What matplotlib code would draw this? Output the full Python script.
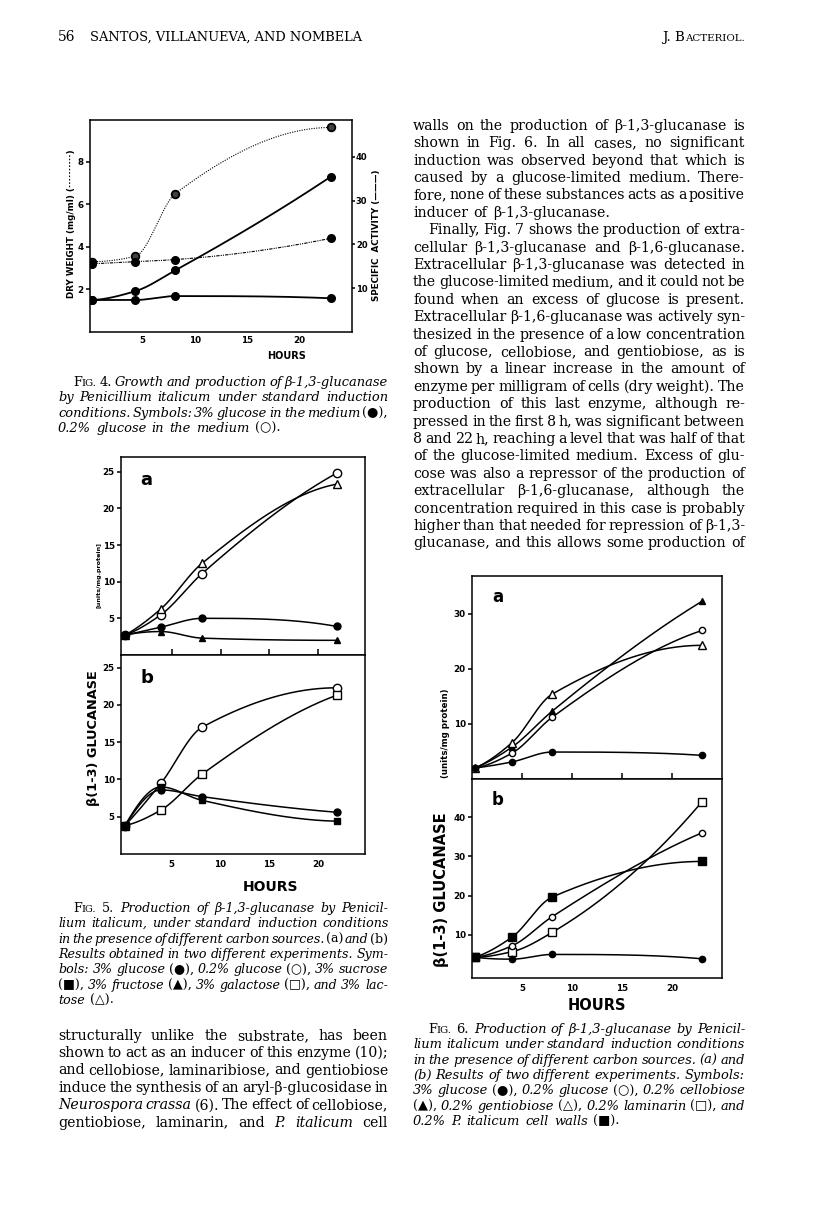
import numpy as np
import matplotlib
matplotlib.use('Agg')
import matplotlib.pyplot as plt

W, H = 816, 1228

# -----------------------------------------------------------------------------
# data

# Fig. 4: growth (dry weight, mg/ml) and specific activity vs hours
hours4 = [0.2, 4.3, 8.15, 23.0]
dry_02 = [3.3, 3.55, 6.5, 9.6]       # 0.2% glucose, dry weight (dotted)
dry_3 = [3.2, 3.3, 3.4, 4.4]         # 3% glucose, dry weight (dotted)
act_02 = [7.3, 9.3, 14.1, 35.5]      # 0.2% glucose, specific activity (solid)
act_3 = [7.3, 7.3, 8.2, 7.7]         # 3% glucose, specific activity (solid)
ticks4_left = [2, 4, 6, 8]
ticks4_right = [10, 20, 30, 40]

# Fig. 5: beta(1-3) glucanase, units/mg protein
hours5 = [0.2, 3.9, 8.1, 21.9]
f5a_glc3 = [2.7, 3.8, 5.0, 3.9]
f5a_glc02 = [2.7, 5.5, 11.1, 24.8]
f5a_fru = [2.7, 3.2, 2.3, 2.0]
f5a_lac = [2.7, 6.3, 12.5, 23.3]
f5b_glc3 = [3.8, 8.6, 7.7, 5.6]
f5b_glc02 = [3.8, 9.5, 17.0, 22.3]
f5b_suc = [3.8, 9.0, 7.2, 4.4]
f5b_gal = [3.8, 5.9, 10.7, 21.3]
ticks5 = [5, 10, 15, 20, 25]

# Fig. 6
hours6 = [0.3, 4.0, 8.0, 23.0]
f6a_glc3 = [2.0, 3.1, 4.9, 4.3]
f6a_glc02 = [2.0, 4.7, 11.2, 27.0]
f6a_cel = [2.0, 5.8, 12.3, 32.3]
f6a_gen = [2.0, 6.6, 15.4, 24.3]
f6b_glc3 = [4.3, 3.8, 5.0, 3.9]
f6b_glc02 = [4.3, 7.2, 14.6, 36.0]
f6b_lam = [4.3, 5.7, 10.6, 43.9]
f6b_walls = [4.3, 9.4, 19.6, 28.7]

hour_ticks = [5, 10, 15, 20]

# -----------------------------------------------------------------------------
# text of the page

header_left = ['56', 'SANTOS, VILLANUEVA, AND NOMBELA']

right_col = [
    'walls on the production of β-1,3-glucanase is',
    'shown in Fig. 6. In all cases, no significant',
    'induction was observed beyond that which is',
    'caused by a glucose-limited medium. There-',
    'fore, none of these substances acts as a positive',
    'inducer of β-1,3-glucanase.',
    'Finally, Fig. 7 shows the production of extra-',
    'cellular β-1,3-glucanase and β-1,6-glucanase.',
    'Extracellular β-1,3-glucanase was detected in',
    'the glucose-limited medium, and it could not be',
    'found when an excess of glucose is present.',
    'Extracellular β-1,6-glucanase was actively syn-',
    'thesized in the presence of a low concentration',
    'of glucose, cellobiose, and gentiobiose, as is',
    'shown by a linear increase in the amount of',
    'enzyme per milligram of cells (dry weight). The',
    'production of this last enzyme, although re-',
    'pressed in the first 8 h, was significant between',
    '8 and 22 h, reaching a level that was half of that',
    'of the glucose-limited medium. Excess of glu-',
    'cose was also a repressor of the production of',
    'extracellular β-1,6-glucanase, although the',
    'concentration required in this case is probably',
    'higher than that needed for repression of β-1,3-',
    'glucanase, and this allows some production of',
]

left_col = [
    'structurally unlike the substrate, has been',
    'shown to act as an inducer of this enzyme (10);',
    'and cellobiose, laminaribiose, and gentiobiose',
    'induce the synthesis of an aryl-β-glucosidase in',
    '_Neurospora crassa_ (6). The effect of cellobiose,',
    'gentiobiose, laminarin, and _P. italicum_ cell',
]

cap4 = [
    '^FIG. _4._ Growth and production of β-1,3-glucanase',
    'by Penicillium italicum under standard induction',
    'conditions. Symbols: 3% glucose in the medium _(●),_',
    '0.2% glucose in the medium _(○)._',
]

cap5 = [
    '^FIG. _5._ Production of β-1,3-glucanase by Penicil-',
    'lium italicum, under standard induction conditions',
    'in the presence of different carbon sources. _(a)_ and _(b)_',
    'Results obtained in two different experiments. Sym-',
    'bols: 3% glucose _(●),_ 0.2% glucose _(○),_ 3% sucrose',
    '_(■),_ 3% fructose _(▲),_ 3% galactose _(□),_ and 3% lac-',
    'tose _(△)._',
]

cap6 = [
    '^FIG. _6._ Production of β-1,3-glucanase by Penicil-',
    'lium italicum under standard induction conditions',
    'in the presence of different carbon sources. (a) and',
    '(b) Results of two different experiments. Symbols:',
    '3% glucose _(●),_ 0.2% glucose _(○),_ 0.2% cellobiose',
    '_(▲),_ 0.2% gentiobiose _(△),_ 0.2% laminarin _(□),_ and',
    '0.2% P. italicum cell walls _(■)._',
]

# -----------------------------------------------------------------------------
# helpers

plt.rcParams['font.family'] = ['DejaVu Serif', 'DejaVu Sans']
plt.rcParams['mathtext.default'] = 'regular'

fig = plt.figure(figsize=(W / 100, H / 100), dpi=100)
fig.patch.set_facecolor('white')
renderer = fig.canvas.get_renderer()

SANS = ['DejaVu Sans']


def rect(x0, y0, x1, y1):
    return [x0 / W, 1 - y1 / H, (x1 - x0) / W, (y1 - y0) / H]


def ftext(x, y, s, **kw):
    return fig.text(x / W, 1 - y / H, s, **kw)


def pchip(x, y, n=60):
    # smooth curve through the measured points (drawn line only)
    x = np.asarray(x, float)
    y = np.asarray(y, float)
    h = np.diff(x)
    d = np.diff(y) / h
    m = np.zeros_like(y)
    for k in range(1, len(x) - 1):
        if d[k - 1] * d[k] > 0:
            w1 = 2 * h[k] + h[k - 1]
            w2 = h[k] + 2 * h[k - 1]
            m[k] = (w1 + w2) / (w1 / d[k - 1] + w2 / d[k])

    def end(h0, h1, d0, d1):
        s = ((2 * h0 + h1) * d0 - h0 * d1) / (h0 + h1)
        if np.sign(s) != np.sign(d0):
            s = 0.0
        elif np.sign(d0) != np.sign(d1) and abs(s) > abs(3 * d0):
            s = 3 * d0
        return s

    m[0] = end(h[0], h[1], d[0], d[1])
    m[-1] = end(h[-1], h[-2], d[-1], d[-2])
    xs, ys = [], []
    t = np.linspace(0, 1, n)
    for k in range(len(x) - 1):
        h00 = 2 * t**3 - 3 * t**2 + 1
        h10 = t**3 - 2 * t**2 + t
        h01 = -2 * t**3 + 3 * t**2
        h11 = t**3 - t**2
        xs.append(x[k] + t * h[k])
        ys.append(h00 * y[k] + h10 * h[k] * m[k] + h01 * y[k + 1] + h11 * h[k] * m[k + 1])
    return np.concatenate(xs), np.concatenate(ys)


def series(ax, x, y, marker, filled, ms=5.5, ls='-', lw=1.1):
    xs, ys = pchip(x, y)
    ax.plot(xs, ys, color='black', ls=ls, lw=lw, zorder=2)
    ax.plot(x, y, ls='none', marker=marker, ms=ms, mec='black', mew=1.0,
            mfc='black' if filled else 'white', zorder=3)


def parse(line, base_style):
    # '_' toggles italic/roman, '^' marks small caps word
    words = []
    state = base_style
    other = 'normal' if base_style == 'italic' else 'italic'
    for tok in line.split(' '):
        style = state
        sc = False
        if tok.startswith('^'):
            tok = tok[1:]
            sc = True
            style = 'normal'
        if tok.startswith('_'):
            tok = tok[1:]
            state = other
            style = other
        if tok.endswith('_'):
            tok = tok[:-1]
            state = base_style
        words.append((tok, style, sc))
    return words


def word_parts(tok, style, sc, size):
    if sc:
        return [(tok[0], style, size), (tok[1:], style, size * 0.78)]
    return [(tok, style, size)]


def measure(s, style, size):
    t = fig.text(0, 0, s, fontsize=size, fontstyle=style)
    w = t.get_window_extent(renderer).width
    t.remove()
    return w


def block(lines, x0, x1, y0, dy, size, base_style='normal', last=(), indent=None):
    indent = indent or {}
    parsed = [parse(l, base_style) for l in lines]
    widths = []
    for words in parsed:
        ww = []
        for tok, style, sc in words:
            ww.append(sum(measure(s, st, sz) for s, st, sz in word_parts(tok, style, sc, size)))
        widths.append(ww)
    space = measure('n', 'normal', size) * 0.5
    # shrink if a justified line does not fit
    ratio = 1.0
    for i, ww in enumerate(widths):
        avail = x1 - x0 - indent.get(i, 0)
        need = sum(ww) + 0.45 * space * (len(ww) - 1)
        ratio = max(ratio, need / avail)
    f = 1.0 / ratio
    size = size * f
    space *= f
    for i, (words, ww) in enumerate(zip(parsed, widths)):
        ww = [w * f for w in ww]
        xs = x0 + indent.get(i, 0)
        avail = x1 - xs
        if i in last or len(ww) < 2:
            gap = space * 1.25
        else:
            gap = (avail - sum(ww)) / (len(ww) - 1)
        y = y0 + i * dy + 3.8
        x = xs
        for (tok, style, sc), w in zip(words, ww):
            xx = x
            for s, st, sz in word_parts(tok, style, sc, size):
                ftext(xx, y, s, fontsize=sz, fontstyle=st, ha='left', va='baseline')
                xx += measure(s, st, sz)
            x += w + gap


def style_axes(ax, lw=1.1):
    for sp in ax.spines.values():
        sp.set_linewidth(lw)
    ax.tick_params(labelsize=6.3, width=lw, length=3, pad=1.5)
    for lab in ax.get_xticklabels() + ax.get_yticklabels():
        lab.set_fontweight('bold')
        lab.set_family(SANS)


# -----------------------------------------------------------------------------
# header

ftext(58, 37 + 4, header_left[0], fontsize=10, ha='left', va='baseline')
ftext(90, 37 + 4, header_left[1], fontsize=9.4, ha='left', va='baseline')
t = ftext(745, 37 + 4, 'ACTERIOL.', fontsize=7.4, ha='right', va='baseline')
wsc = t.get_window_extent(renderer).width
ftext(745 - wsc, 37 + 4, 'J. B', fontsize=9.6, ha='right', va='baseline')

# -----------------------------------------------------------------------------
# Fig. 4

ax4 = fig.add_axes(rect(90, 120, 352, 332))
ax4r = ax4.twinx()
ax4.set_xlim(0, 25)
ax4.set_ylim(0, 9.95)
ax4r.set_ylim(0, 48.4)

xs, ys = pchip(hours4, dry_02)
ax4.plot(xs, ys, color='black', ls=(0, (1, 1.2)), lw=0.8)
xs, ys = pchip(hours4, dry_3)
ax4.plot(xs, ys, color='black', ls=(0, (3, 1, 1, 1, 1, 1)), lw=0.8)
ax4.plot(hours4, dry_02, ls='none', marker='o', ms=5.5, mfc='0.25', mec='black', mew=1.3)
ax4.plot(hours4, dry_3, ls='none', marker='o', ms=5.5, mfc='black', mec='black')
series(ax4r, hours4, act_02, 'o', True, ms=5.5, lw=1.3)
series(ax4r, hours4, act_3, 'o', True, ms=5.5, lw=1.3)

ax4.set_xticks(hour_ticks)
ax4.set_yticks(ticks4_left)
ax4r.set_yticks(ticks4_right)
style_axes(ax4)
style_axes(ax4r)
ax4.tick_params(axis='x', direction='in', length=0, pad=3)
ax4r.tick_params(axis='y', length=2, pad=0.8, labelsize=6)
ax4.spines['right'].set_visible(False)
ax4r.spines['left'].set_visible(False)
ax4r.spines['top'].set_visible(False)
ax4r.spines['bottom'].set_visible(False)

ftext(287, 356, 'HOURS', fontsize=7, fontweight='bold', family=SANS, ha='center', va='center')
ftext(71, 224, 'DRY WEIGHT (mg/ml) (··········)', fontsize=6.3, fontweight='bold',
      family=SANS, rotation=90, ha='center', va='center')
ftext(376, 235, 'SPECIFIC  ACTIVITY (———)', fontsize=6.3, fontweight='bold',
      family=SANS, rotation=90, ha='center', va='center')

block(cap4, 58, 388, 382, 15.4, 9.4, base_style='italic', last={3}, indent={0: 15})

# -----------------------------------------------------------------------------
# Fig. 5

ax5a = fig.add_axes(rect(121, 457, 365, 655))
ax5b = fig.add_axes(rect(121, 655, 365, 854))
for ax in (ax5a, ax5b):
    ax.set_xlim(-0.2, 24.8)
    ax.set_xticks(hour_ticks)
    ax.set_yticks(ticks5)
ax5a.set_ylim(0, 27.0)
ax5b.set_ylim(0, 26.7)

series(ax5a, hours5, f5a_glc02, 'o', False, ms=6)
series(ax5a, hours5, f5a_lac, '^', False, ms=6)
series(ax5a, hours5, f5a_glc3, 'o', True, ms=5)
series(ax5a, hours5, f5a_fru, '^', True, ms=5)
series(ax5b, hours5, f5b_glc02, 'o', False, ms=6)
series(ax5b, hours5, f5b_gal, 's', False, ms=6)
series(ax5b, hours5, f5b_glc3, 'o', True, ms=5)
series(ax5b, hours5, f5b_suc, 's', True, ms=5)

style_axes(ax5a)
style_axes(ax5b)
ax5a.tick_params(axis='x', direction='in', length=4, labelbottom=False)
ax5b.tick_params(axis='x', direction='in', length=0, pad=4)
ax5a.text(0.08, 0.93, 'a', transform=ax5a.transAxes, fontsize=13, fontweight='bold',
          family=SANS, va='top')
ax5b.text(0.08, 0.93, 'b', transform=ax5b.transAxes, fontsize=13, fontweight='bold',
          family=SANS, va='top')

ftext(270, 887, 'HOURS', fontsize=10, fontweight='bold', family=SANS, ha='center', va='center')
ftext(93, 738, 'β(1-3) GLUCANASE', fontsize=9.3, fontweight='bold', family=SANS,
      rotation=90, ha='center', va='center')
ftext(99, 575, '[units/mg.protein]', fontsize=4.6, fontweight='bold', family=SANS,
      rotation=90, ha='center', va='center')

block(cap5, 58, 388, 908, 15.4, 9.4, base_style='italic', last={6}, indent={0: 15})
block(left_col, 58, 388, 1036, 17.35, 10.2)

# -----------------------------------------------------------------------------
# Fig. 6

ax6a = fig.add_axes(rect(472, 576, 722, 779))
ax6b = fig.add_axes(rect(472, 779, 722, 978))
for ax in (ax6a, ax6b):
    ax.set_xlim(0, 25)
    ax.set_xticks(hour_ticks)
ax6a.set_ylim(0, 36.9)
ax6b.set_ylim(-1, 49.7)
ax6a.set_yticks([10, 20, 30])
ax6b.set_yticks([10, 20, 30, 40])

series(ax6a, hours6, f6a_cel, '^', True, ms=5)
series(ax6a, hours6, f6a_glc02, 'o', False, ms=4.5)
series(ax6a, hours6, f6a_gen, '^', False, ms=6)
series(ax6a, hours6, f6a_glc3, 'o', True, ms=4.5)
series(ax6b, hours6, f6b_lam, 's', False, ms=6)
series(ax6b, hours6, f6b_glc02, 'o', False, ms=4.5)
series(ax6b, hours6, f6b_walls, 's', True, ms=6)
series(ax6b, hours6, f6b_glc3, 'o', True, ms=4.5)

style_axes(ax6a)
style_axes(ax6b)
ax6a.tick_params(axis='x', direction='in', length=4, labelbottom=False)
ax6b.tick_params(axis='x', direction='in', length=0, pad=4)
ax6a.text(0.08, 0.94, 'a', transform=ax6a.transAxes, fontsize=12, fontweight='bold',
          family=SANS, va='top')
ax6b.text(0.08, 0.94, 'b', transform=ax6b.transAxes, fontsize=12, fontweight='bold',
          family=SANS, va='top')

ftext(597, 1005, 'HOURS', fontsize=10.5, fontweight='bold', family=SANS, ha='center', va='center')
ftext(442, 890, 'β(1-3) GLUCANASE', fontsize=10.5, fontweight='bold', family=SANS,
      rotation=90, ha='center', va='center')
ftext(446, 733, '(units/mg protein)', fontsize=6.2, fontweight='bold', family=SANS,
      rotation=90, ha='center', va='center')

block(cap6, 413, 745, 1029, 15.4, 9.4, base_style='italic', last={6}, indent={0: 15})
block(right_col, 413, 745, 126, 17.4, 10.2, last={5}, indent={6: 15})

fig.savefig('out.png', dpi=100, facecolor='white')
